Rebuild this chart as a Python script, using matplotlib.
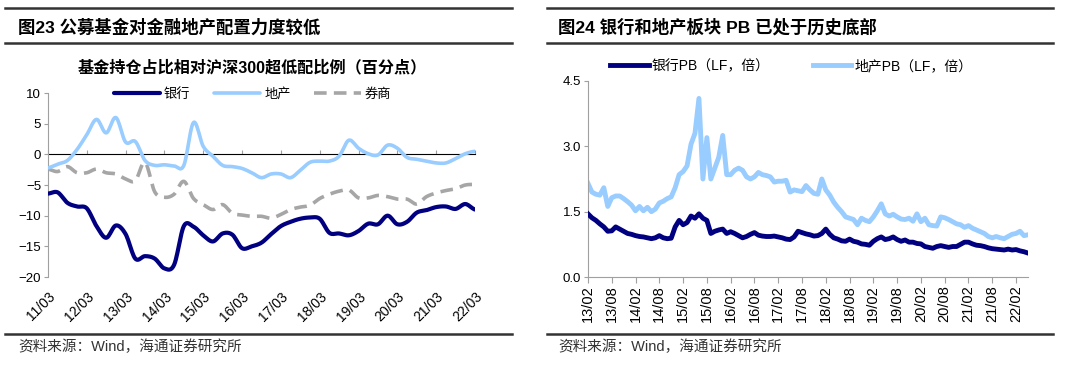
import numpy as np
import matplotlib
matplotlib.use('Agg')
import matplotlib.pyplot as plt
from matplotlib.lines import Line2D

plt.rcParams['font.family'] = ['Liberation Sans', 'Noto Sans CJK SC']

# ---- left: fund allocation vs CSI300 (quarterly, 11Q1 - 22Q1) ----
q_labels = ['11/03', '12/03', '13/03', '14/03', '15/03', '16/03',
            '17/03', '18/03', '19/03', '20/03', '21/03', '22/03']
bank_diff = [-6.4, -6.2, -7.9, -8.5, -8.8, -11.7, -13.6, -11.6, -13.0, -17.0,
             -16.6, -17.0, -18.6, -18.0, -11.7, -11.8, -13.2, -14.2, -12.9, -13.1,
             -15.3, -15.0, -14.4, -13.0, -11.7, -11.0, -10.5, -10.3, -10.5, -12.8,
             -12.9, -13.2, -12.5, -11.3, -11.4, -10.0, -11.4, -11.0, -9.5, -9.1,
             -8.6, -8.5, -8.9, -8.1, -9.0]
prop_diff = [-2.2, -1.6, -1.0, 0.8, 3.2, 5.7, 3.5, 6.0, 2.0, 2.1,
             -1.0, -1.8, -1.7, -1.9, -1.8, 5.2, 1.3, -0.3, -1.8, -2.0,
             -2.3, -3.0, -3.8, -3.2, -3.2, -3.8, -2.6, -1.3, -1.1, -1.1,
             -0.3, 2.3, 1.0, 0.1, -0.1, 1.5, 1.0, -0.5, -0.8, -1.1,
             -1.4, -1.4, -0.7, 0.1, 0.5]
broker_diff = [-2.4, -2.8, -2.0, -3.0, -3.0, -2.4, -3.0, -3.2, -4.0, -4.3,
               -1.3, -6.1, -7.0, -6.5, -4.4, -7.2, -8.2, -9.0, -8.2, -9.6,
               -9.9, -10.1, -10.1, -10.4, -9.8, -9.0, -8.6, -8.3, -7.2, -6.5,
               -6.0, -5.8, -7.1, -7.1, -6.7, -6.9, -7.3, -7.3, -8.1, -6.9,
               -6.3, -5.9, -5.6, -5.0, -4.9]

# ---- right: PB (monthly, 13/02 - 22/05) ----
pb_labels = ['13/02', '13/08', '14/02', '14/08', '15/02', '15/08', '16/02',
             '16/08', '17/02', '17/08', '18/02', '18/08', '19/02', '19/08',
             '20/02', '20/08', '21/02', '21/08', '22/02']
prop_pb = [2.15, 1.95, 1.9, 1.88, 2.05, 1.62, 1.82, 1.86, 1.86, 1.8,
           1.73, 1.65, 1.52, 1.62, 1.52, 1.6, 1.5, 1.56, 1.7, 1.74,
           1.8, 1.84, 2.05, 2.35, 2.42, 2.55, 3.05, 3.3, 4.1, 2.25,
           3.2, 2.25, 2.5, 2.75, 3.25, 2.35, 2.35, 2.45, 2.5, 2.45,
           2.3, 2.25, 2.3, 2.4, 2.35, 2.33, 2.3, 2.18, 2.2, 2.2,
           2.22, 1.95, 2.0, 1.98, 1.96, 2.1, 2.0, 1.92, 1.9, 2.25,
           2.0, 1.88, 1.72, 1.6, 1.5, 1.38, 1.35, 1.32, 1.2, 1.35,
           1.3, 1.27, 1.38, 1.52, 1.68, 1.45, 1.4, 1.44, 1.38, 1.33,
           1.32, 1.35, 1.28, 1.45, 1.27, 1.35, 1.2, 1.18, 1.17, 1.38,
           1.36, 1.32, 1.27, 1.22, 1.2, 1.14, 1.18, 1.12, 1.08, 1.04,
           1.0, 0.93, 0.9, 0.93, 0.9, 0.88, 0.93, 0.98, 1.0, 1.05,
           0.95, 0.97]
bank_pb = [1.45, 1.36, 1.3, 1.22, 1.15, 1.05, 1.06, 1.15, 1.1, 1.05,
           1.0, 0.98, 0.95, 0.93, 0.92, 0.9, 0.88, 0.9, 0.95, 0.9,
           0.88, 0.89, 1.15, 1.3, 1.2, 1.25, 1.4, 1.35, 1.45, 1.35,
           1.3, 1.0, 1.05, 1.08, 1.1, 1.0, 1.04, 1.0, 0.95, 0.9,
           0.93, 0.98, 1.02, 0.96, 0.94, 0.93, 0.93, 0.94, 0.92, 0.9,
           0.87, 0.86, 0.92, 1.05, 1.02, 0.99, 0.97, 0.94, 0.95, 1.0,
           1.1, 0.98, 0.9, 0.87, 0.83, 0.82, 0.87, 0.82, 0.8, 0.76,
           0.75, 0.73, 0.82, 0.88, 0.92, 0.86, 0.88, 0.92, 0.86, 0.82,
           0.85, 0.8, 0.8, 0.77, 0.76, 0.7, 0.68, 0.66, 0.7, 0.72,
           0.7, 0.68, 0.7, 0.7, 0.75, 0.8, 0.8, 0.76, 0.73, 0.72,
           0.7, 0.67, 0.65, 0.64, 0.63, 0.62, 0.64, 0.62, 0.63, 0.6,
           0.58, 0.55]

NAVY = '#000080'
LIGHT = '#99CCFF'
GREY = '#A6A6A6'
AXC = '#A0A0A0'


def smooth(y, n=12):
    # excel-like smoothed line (catmull-rom)
    y = np.asarray(y, float)
    p = np.concatenate([[y[0]], y, [y[-1]]])
    xs, ys = [], []
    t = np.linspace(0, 1, n, endpoint=False)
    for i in range(len(y) - 1):
        p0, p1, p2, p3 = p[i], p[i + 1], p[i + 2], p[i + 3]
        ys.append(0.5 * (2 * p1 + (-p0 + p2) * t + (2 * p0 - 5 * p1 + 4 * p2 - p3) * t ** 2
                         + (-p0 + 3 * p1 - 3 * p2 + p3) * t ** 3))
        xs.append(i + t)
    xs.append([len(y) - 1])
    ys.append([y[-1]])
    return np.concatenate(xs), np.concatenate(ys)


fig = plt.figure(figsize=(10.8, 3.69), dpi=100)

# header / footer rules and texts
for x0, x1 in [(0.0046, 0.474), (0.5065, 0.975)]:
    for yy in [0.9783, 0.8835, 0.0949]:
        fig.add_artist(Line2D([x0, x1], [yy, yy], transform=fig.transFigure,
                              color='#333333', lw=1.8))
fig.text(0.0167, 0.9268, '图23 公募基金对金融地产配置力度较低', fontsize=12.5,
         fontweight='bold', va='center', ha='left')
fig.text(0.5167, 0.9268, '图24 银行和地产板块 PB 已处于历史底部', fontsize=12.5,
         fontweight='bold', va='center', ha='left')
fig.text(0.0167, 0.0596, '资料来源：Wind，海通证券研究所', fontsize=10.5,
         color='#333333', va='center', ha='left')
fig.text(0.5167, 0.0596, '资料来源：Wind，海通证券研究所', fontsize=10.5,
         color='#333333', va='center', ha='left')
fig.text(0.2333, 0.8157, '基金持仓占比相对沪深300超低配比例（百分点）', fontsize=11.6,
         fontweight='bold', va='center', ha='center')

# ---- left chart ----
ax1 = fig.add_axes([0.0444, 0.2493, 0.3954, 0.4986])
xb, yb = smooth(bank_diff)
xp, yp = smooth(prop_diff)
xg, yg = smooth(broker_diff)
ax1.plot(xb, yb, color=NAVY, lw=3, label='银行', solid_capstyle='round', zorder=4)
ax1.plot(xp, yp, color=LIGHT, lw=2.6, label='地产', solid_capstyle='round', zorder=3)
ax1.plot(xg, yg, color=GREY, lw=2.6, ls=(0, (3.5, 2)), label='券商', zorder=2)
ax1.set_xlim(0, len(bank_diff) - 1)
ax1.set_ylim(-20, 10)
ax1.set_yticks([10, 5, 0, -5, -10, -15, -20])
ax1.set_xticks(np.arange(0, len(bank_diff), 4))
ax1.set_xticklabels(q_labels, rotation=45, ha='right', rotation_mode='anchor')
ax1.tick_params(axis='x', length=0, pad=9, labelsize=10)
ax1.tick_params(axis='y', length=3, color=AXC, labelsize=9.5, pad=2)
for s in ['top', 'right', 'bottom']:
    ax1.spines[s].set_visible(False)
ax1.spines['left'].set_color(AXC)
zero = ax1.secondary_xaxis(2 / 3)
zero.set_xticks(np.arange(0, len(bank_diff), 4))
zero.tick_params(length=3, color=AXC, labelbottom=False, labeltop=False)
zero.spines['bottom'].set_color(AXC)
ax1.legend(loc='center', bbox_to_anchor=(0.2336, 0.745), bbox_transform=fig.transFigure,
           ncol=3, frameon=False, fontsize=9.5, handlelength=3.5, columnspacing=1.8,
           handletextpad=0.3)

# ---- right chart ----
ax2 = fig.add_axes([0.5444, 0.2493, 0.4074, 0.5312])
months = np.arange(1, len(bank_pb) + 1)
ax2.plot(months, bank_pb, color=NAVY, lw=3.5, label='银行PB（LF，倍）', zorder=3)
ax2.plot(months, prop_pb, color=LIGHT, lw=3.5, label='地产PB（LF，倍）', zorder=2)
ax2.set_xlim(1, len(bank_pb))
ax2.set_ylim(0, 4.5)
ax2.set_yticks([0, 1.5, 3.0, 4.5])
ax2.set_yticklabels(['0.0', '1.5', '3.0', '4.5'])
ax2.set_xticks(np.arange(1, len(bank_pb) + 1, 6)[:len(pb_labels)])
ax2.set_xticklabels(pb_labels, rotation=90)
ax2.tick_params(axis='x', length=4, color=AXC, labelsize=10.5, pad=2)
ax2.tick_params(axis='y', length=3, color=AXC, labelsize=9.5, pad=2)
for s in ['top', 'right']:
    ax2.spines[s].set_visible(False)
ax2.spines['left'].set_color(AXC)
ax2.spines['bottom'].set_color(AXC)
ax2.legend(loc='center', bbox_to_anchor=(0.7324, 0.821), bbox_transform=fig.transFigure,
           ncol=2, frameon=False, fontsize=10, handlelength=2.8, columnspacing=3.1,
           handletextpad=0.2)

fig.savefig('out.png', dpi=100)
